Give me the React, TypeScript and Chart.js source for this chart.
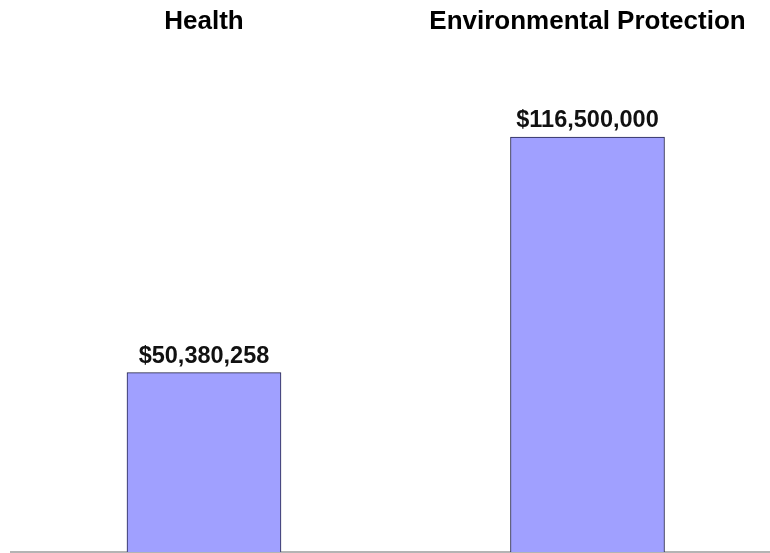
import React, { useEffect, useRef } from "react";
import { Chart, registerables } from "chart.js";

Chart.register(...registerables);

const categories: string[] = ["Health", "Environmental Protection"];
const amounts: number[] = [50380258, 116500000];
const amountLabels: string[] = ["$50,380,258", "$116,500,000"];

const FONT = "'Liberation Sans', Arial, Helvetica, sans-serif";

const valueLabelPlugin = {
  id: "valueLabels",
  beforeDatasetsDraw(chart: any) {
    const { ctx } = chart;
    const y0 = chart.scales.y.getPixelForValue(0);
    ctx.save();
    ctx.strokeStyle = "#b4b4b4";
    ctx.lineWidth = 2;
    ctx.beginPath();
    ctx.moveTo(10, y0);
    ctx.lineTo(chart.width, y0);
    ctx.stroke();
    ctx.restore();
  },
  afterDatasetsDraw(chart: any) {
    const { ctx } = chart;
    const meta = chart.getDatasetMeta(0);
    ctx.save();
    ctx.font = `bold 23.5px ${FONT}`;
    ctx.fillStyle = "#111111";
    ctx.textAlign = "center";
    ctx.textBaseline = "alphabetic";
    meta.data.forEach((el: any, i: number) => {
      ctx.fillText(amountLabels[i], el.x, el.y - 10);
    });
    ctx.restore();
  },
};

export default function App() {
  const ref = useRef<HTMLCanvasElement | null>(null);
  useEffect(() => {
    if (!ref.current) return;
    const chart = new Chart(ref.current, {
      type: "bar",
      data: {
        datasets: [
          {
            data: amounts.map((v, i) => ({ x: i, y: v })),
            backgroundColor: "#a0a0ff",
            borderColor: "#22224a",
            borderWidth: 1,
            barThickness: 154,
          },
        ],
      },
      options: {
        animation: false,
        responsive: false,
        maintainAspectRatio: false,
        layout: { padding: { top: 4, bottom: 1, left: 0, right: 0 } },
        plugins: { legend: { display: false }, tooltip: { enabled: false } },
        scales: {
          x: {
            type: "linear",
            position: "top",
            offset: false,
            min: -0.5319,
            max: 1.4759,
            grid: { display: false, drawTicks: false, offset: false },
            border: { display: false },
            afterBuildTicks: (axis: any) => {
              axis.ticks = categories.map((_, i) => ({ value: i }));
            },
            ticks: {
              autoSkip: false,
              maxRotation: 0,
              padding: 2,
              color: "#000000",
              font: { family: FONT, size: 26, weight: "bold" },
              callback: (v: any) => categories[Math.round(Number(v))] ?? "",
            },
          },
          y: {
            display: false,
            min: 0,
            max: 144000000,
          },
        },
      },
      plugins: [valueLabelPlugin],
    });
    return () => chart.destroy();
  }, []);
  return (
    <div style={{ position: "fixed", left: 0, top: 0, width: 770, height: 553, background: "#ffffff" }}>
      <canvas ref={ref} width={770} height={553} style={{ display: "block" }} />
    </div>
  );
}
